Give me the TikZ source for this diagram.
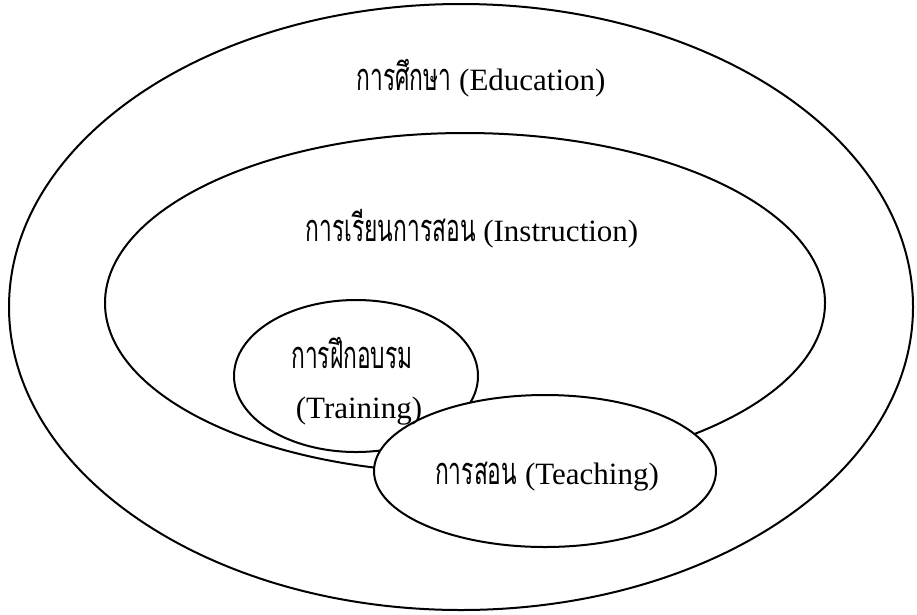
\documentclass[tikz,border=0pt]{standalone}
\usepackage{fontspec}
\setmainfont{Liberation Serif}
\newfontfamily\thaifont[Script=Thai,FakeStretch=0.6]{Loma}
\newcommand{\thx}[1]{{\thaifont\fontsize{38}{30}\selectfont #1}}
\begin{document}
\begin{tikzpicture}[x=1pt,y=-1pt,
  ring/.style={draw=black,line width=2pt},
  lbl/.style={inner sep=0pt,font=\fontsize{31}{33}\selectfont}]
\useasboundingbox (0,0) rectangle (917,614);
\fill[white] (0,0) rectangle (917,614);
\draw[ring] (461,307) ellipse [x radius=452, y radius=303];
\draw[ring] (465,303) ellipse [x radius=360, y radius=170];
\draw[ring] (356,376) ellipse [x radius=122, y radius=76];
\draw[ring,fill=white] (545,471) ellipse [x radius=171, y radius=76];
\node[lbl] (edu) at (481,78) {\thx{การศึกษา} (Education)};
\node[lbl] (ins) at (472,229) {\thx{การเรียนการสอน} (Instruction)};
\node[lbl] (tr1) at (352,353) {\thx{การฝึกอบรม}};
\node[lbl] (tr2) at (359,411) {(Training)};
\node[lbl] (tea) at (547,477) {\thx{การสอน} (Teaching)};
\end{tikzpicture}
\end{document}
